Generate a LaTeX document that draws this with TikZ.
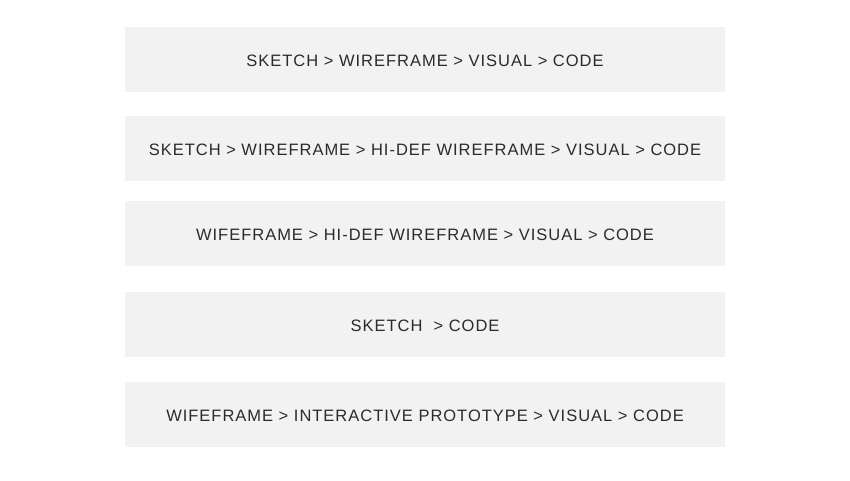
\documentclass[tikz,border=0pt]{standalone}
\usepackage{fontspec}
\setmainfont{Liberation Sans}[LetterSpace=6]
\definecolor{stepgray}{HTML}{F2F2F2}
\definecolor{stepink}{HTML}{2B2B2B}
\begin{document}
\begin{tikzpicture}[x=1pt,y=-1pt,
    flowbox/.style={fill=stepgray,text=stepink,minimum width=600pt,minimum height=65pt,
      inner sep=0pt,text height=13.8pt,text depth=0pt,font=\fontsize{16.5}{19}\selectfont}]
          \useasboundingbox (0,0) rectangle (850,480);
          \node [flowbox] (p1) at (425,59.5) {SKETCH > WIREFRAME > VISUAL > CODE};
          \node [flowbox] (p2) at (425,148.5) {SKETCH > WIREFRAME > HI-DEF WIREFRAME > VISUAL > CODE};
          \node [flowbox] (p3) at (425,233.5) {WIFEFRAME > HI-DEF WIREFRAME > VISUAL > CODE};
          \node [flowbox] (p4) at (425,324.5) {SKETCH\ \ > CODE};
          \node [flowbox] (p5) at (425,414.5) {WIFEFRAME > INTERACTIVE PROTOTYPE > VISUAL > CODE};
  \end{tikzpicture}
\end{document}
